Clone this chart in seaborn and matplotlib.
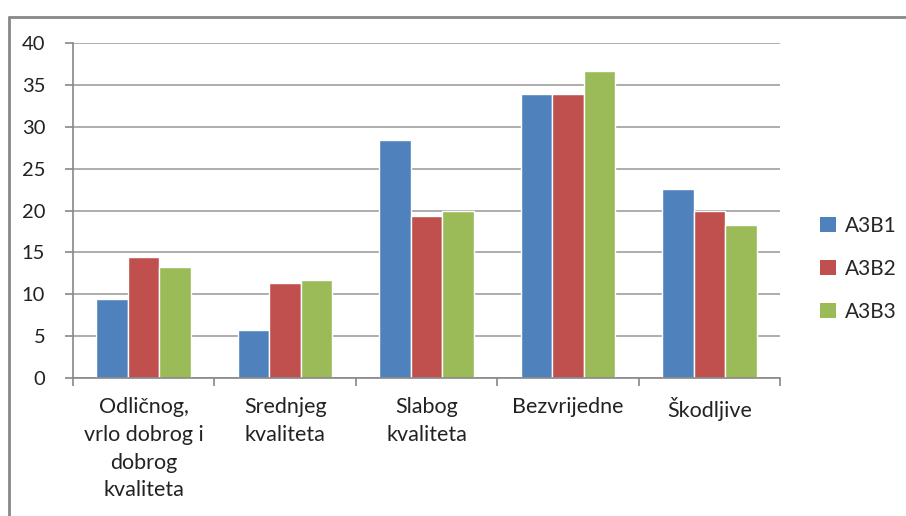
import matplotlib
matplotlib.use("Agg")
import matplotlib.pyplot as plt
import seaborn as sns
import pandas as pd
from matplotlib.patches import Patch
from matplotlib.lines import Line2D

categories = ["Odličnog,\nvrlo dobrog i\ndobrog\nkvaliteta", "Srednjeg\nkvaliteta",
              "Slabog\nkvaliteta", "Bezvrijedne", "Škodljive"]
series = ["A3B1", "A3B2", "A3B3"]
a3b1 = [9.4, 5.7, 28.4, 33.9, 22.6]
a3b2 = [14.5, 11.3, 19.4, 33.9, 20.0]
a3b3 = [13.3, 11.7, 20.0, 36.7, 18.3]
colors = ["#4F81BD", "#C0504D", "#9BBB59"]
yticks = [0, 5, 10, 15, 20, 25, 30, 35, 40]

rows = []
for s, vals in zip(series, [a3b1, a3b2, a3b3]):
    for c, v in zip(categories, vals):
        rows.append({"cat": c, "series": s, "value": v})
df = pd.DataFrame(rows)

sns.set_style("white")
plt.rcParams["font.family"] = ["Lato", "DejaVu Sans"]

fig = plt.figure(figsize=(9.06, 5.16), dpi=100)
ax = fig.add_axes([73/906, 1-378/516, (780-73)/906, (378-43)/516])

sns.barplot(data=df, x="cat", y="value", hue="series", order=categories,
            hue_order=series, palette=colors, saturation=1, width=0.67,
            ax=ax, legend=False, errorbar=None)

ax.set_ylim(0, 40)
ax.set_xlim(-0.5, 4.5)
ax.set_yticks(yticks)
ax.set_yticklabels([str(t) for t in yticks], fontsize=14.5, color="#222222")
ax.set_axisbelow(True)
ax.yaxis.grid(True, color="#A0A0A0", linewidth=1.2)
ax.xaxis.grid(False)
ax.set_xlabel("")
ax.set_ylabel("")

# x ticks at category boundaries, labels centered on categories
ax.set_xticks([i - 0.5 for i in range(6)])
ax.set_xticklabels([])
ax.set_xticks(range(5), minor=True)
ax.set_xticklabels(categories, minor=True, fontsize=15.5, color="#222222",
                   linespacing=1.48, va="top")
ax.tick_params(axis="x", which="major", direction="out", length=6, width=1.2,
               color="#888888", bottom=True)
ax.tick_params(axis="x", which="minor", length=0, pad=14)
ax.tick_params(axis="y", direction="out", length=6, width=1.2, color="#888888",
               left=True, pad=14)

for side in ["top", "right"]:
    ax.spines[side].set_visible(False)
for side in ["left", "bottom"]:
    ax.spines[side].set_color("#888888")
    ax.spines[side].set_linewidth(1.2)

handles = [Patch(facecolor=c, edgecolor="none") for c in colors]
fig.legend(handles, series, loc="center left", bbox_to_anchor=(820/906, 1-269/516),
           frameon=False, fontsize=15, handlelength=0.75, handleheight=0.75,
           handletextpad=0.45, labelspacing=1.1, borderpad=0, borderaxespad=0)

# outer chart border (left and top visible)
fig.add_artist(Line2D([9/906, 9/906], [0, 1-17/516], color="#888888", linewidth=2,
                      transform=fig.transFigure))
fig.add_artist(Line2D([9/906, 1], [1-17/516, 1-17/516], color="#888888", linewidth=2,
                      transform=fig.transFigure))

fig.savefig("out.png", dpi=100)
